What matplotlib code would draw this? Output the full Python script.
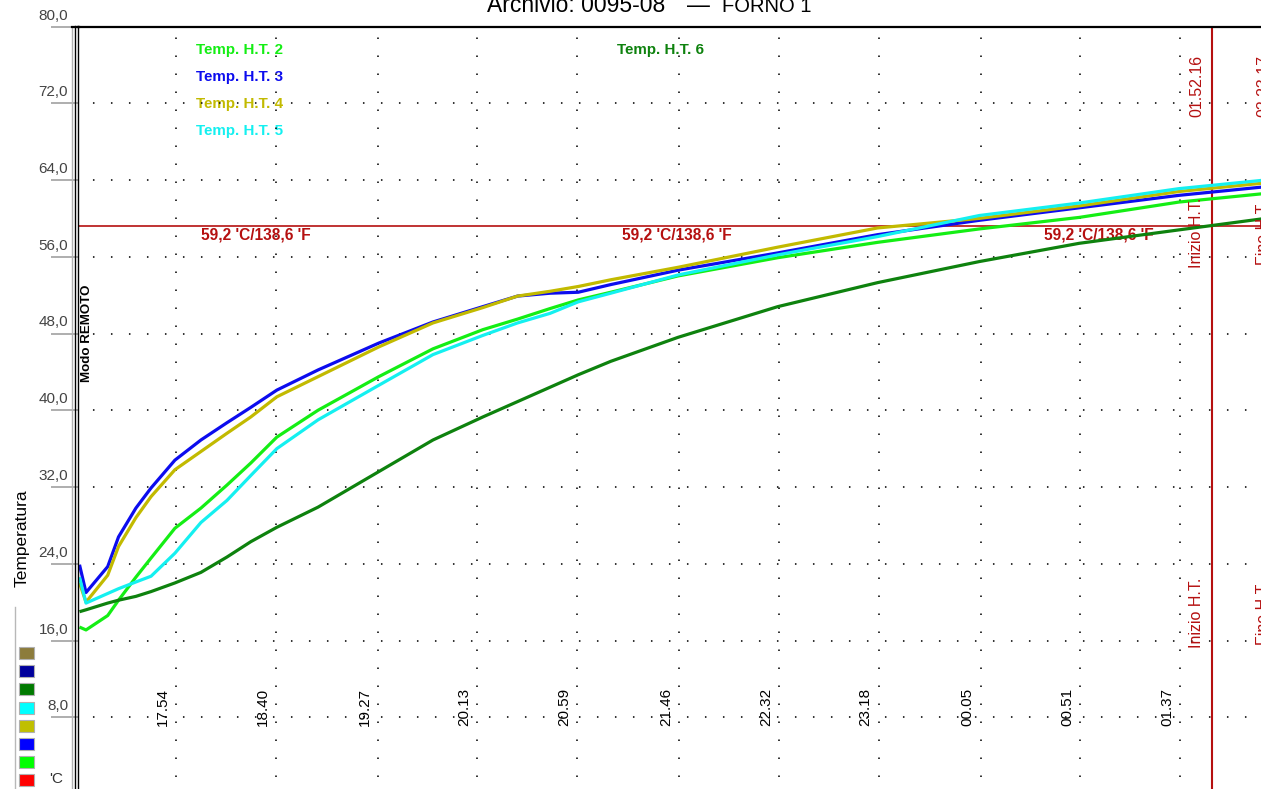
import matplotlib
matplotlib.use("Agg")
import matplotlib.pyplot as plt
import matplotlib.transforms as mtransforms
from matplotlib.lines import Line2D
from matplotlib.patches import Rectangle

plt.rcParams['lines.scale_dashes'] = False
plt.rcParams['font.family'] = ['Liberation Sans', 'DejaVu Sans']

# ---------------- data ----------------
times = ["17:10", "17:13", "17:23", "17:28", "17:36", "17:43", "17:54", "18:06",
         "18:18", "18:29", "18:41", "19:00", "19:28", "19:53", "20:16", "20:32",
         "20:47", "21:00", "21:15", "21:46", "22:32", "23:18", "00:05", "00:51",
         "01:37", "02:17"]

ht2 = [17.4, 17.1, 18.6, 20.2, 22.6, 24.6, 27.7, 29.8, 32.2, 34.5, 37.2, 40.0, 43.5,
       46.4, 48.4, 49.5, 50.6, 51.5, 52.3, 54.0, 55.9, 57.5, 58.9, 60.1, 61.7, 62.6]
ht3 = [23.9, 21.0, 23.7, 26.8, 29.8, 31.9, 34.8, 36.9, 38.7, 40.3, 42.1, 44.2, 47.0,
       49.2, 50.8, 51.9, 52.2, 52.3, 53.1, 54.6, 56.4, 58.3, 59.8, 61.1, 62.4, 63.3]
ht4 = [22.0, 20.0, 22.8, 25.8, 28.8, 31.0, 33.8, 35.7, 37.6, 39.3, 41.4, 43.5, 46.6,
       49.1, 50.7, 51.9, 52.4, 52.9, 53.6, 54.9, 57.0, 59.0, 60.0, 61.3, 62.8, 63.7]
ht5 = [22.6, 19.9, 20.9, 21.4, 22.1, 22.7, 25.1, 28.3, 30.6, 33.2, 36.0, 39.0, 42.6,
       45.8, 47.8, 49.1, 50.1, 51.3, 52.2, 54.1, 56.2, 58.1, 60.3, 61.6, 63.1, 64.0]
ht6 = [19.0, 19.2, 19.9, 20.2, 20.6, 21.1, 22.0, 23.1, 24.7, 26.3, 27.8, 29.9, 33.6,
       36.9, 39.3, 40.9, 42.4, 43.7, 45.1, 47.6, 50.8, 53.3, 55.5, 57.4, 58.8, 60.0]

series_names = ["Temp. H.T. 2", "Temp. H.T. 3", "Temp. H.T. 4", "Temp. H.T. 5", "Temp. H.T. 6"]
series_colors = ["#14ee14", "#0c0cee", "#c2ba00", "#14f0f0", "#0e820e"]

x_tick_labels = ["17.54", "18.40", "19.27", "20.13", "20.59", "21.46", "22.32",
                 "23.18", "00.05", "00.51", "01.37"]
y_ticks = [0, 8, 16, 24, 32, 40, 48, 56, 64, 72, 80]
y_labelled = [8, 16, 24, 32, 40, 48, 56, 64, 72, 80]

threshold = 59.2
threshold_label = "59,2 'C/138,6 'F"
ht_start = "01.52.16"
ht_end = "02.23.17"

legend_box_colors = ["#8c7c3c", "#00009c", "#007a00", "#00ffff", "#c0bf00",
                     "#0000ff", "#00ff00", "#ff0000"]

title_left = "Archivio: 0095-08"
title_right = "FORNO 1"


def to_min(s):
    parts = [int(p) for p in s.replace('.', ':').split(':')]
    h, m = parts[0], parts[1]
    sec = parts[2] if len(parts) > 2 else 0
    if h < 12:
        h += 24
    return h * 60 + m + sec / 60.0


x = [to_min(t) for t in times]
tick_x = [to_min(t) + 0.5 for t in x_tick_labels]

# ---------------- figure / layout ----------------
W, H, DPI = 1261, 789, 100
fig = plt.figure(figsize=(W / DPI, H / DPI), dpi=DPI)
fig.patch.set_facecolor('white')


def fx(px):
    return px / W


def fy(py):
    return 1 - py / H


AX_L, AX_R, AX_T, AX_B = 78, 1300, 26.5, 794
ax = fig.add_axes([fx(AX_L), fy(AX_B), fx(AX_R - AX_L), (AX_B - AX_T) / H])
ax.set_facecolor('white')
ppm = (1180 - 176) / (tick_x[-1] - tick_x[0])
ax.set_xlim(tick_x[0] - (176 - AX_L) / ppm, tick_x[0] + (AX_R - 176) / ppm)
ax.set_ylim(0, 80)

for sp in ['left', 'right', 'bottom']:
    ax.spines[sp].set_visible(False)
ax.spines['top'].set_linewidth(1.6)
ax.spines['top'].set_color('black')

ax.set_xticks(tick_x)
ax.set_yticks(y_ticks)
ax.tick_params(axis='x', length=0, labelbottom=False)
ax.tick_params(axis='y', direction='out', length=19.5, width=1.3, color='#a8a8a8',
               labelleft=False)

P = 18 * 0.72
ax.xaxis.grid(True, color='#111111', linewidth=1.2, linestyle=(3.6, (1.1, P - 1.1)))
ax.yaxis.grid(True, color='#111111', linewidth=1.2, linestyle=(2.2, (1.1, P - 1.1)))
ax.set_axisbelow(True)

# threshold and H.T. markers
red = '#b51010'
ax.axhline(threshold, color=red, lw=1.2, zorder=2)
for t in (ht_start, ht_end):
    ax.axvline(to_min(t), color=red, lw=1.5, zorder=2)

# threshold labels (under the curves)
for px in (201, 622, 1044):
    ax.text(fx(px), fy(235), threshold_label, ha='left', va='center', fontsize=11.2,
            fontweight='bold', color=red, transform=fig.transFigure, zorder=2.5)

# curves
order = [1, 2, 0, 3, 4]
data = [ht2, ht3, ht4, ht5, ht6]
for i in order:
    ax.plot(x, data[i], color=series_colors[i], lw=2.3, zorder=3,
            solid_joinstyle='round', solid_capstyle='butt')

# x tick labels (rotated, left of each grid line)
tr_x = mtransforms.offset_copy(ax.transData, fig=fig, x=-6, y=0, units='dots')
for tx, lab in zip(tick_x, x_tick_labels):
    ax.text(tx, 9.05, lab, rotation=90, ha='right', va='center', fontsize=11,
            color='black', transform=tr_x, clip_on=False)

# y tick labels (above tick mark)
tr_y = mtransforms.offset_copy(
    mtransforms.blended_transform_factory(fig.transFigure, ax.transData),
    fig=fig, x=0, y=4, units='dots')
for v in y_labelled:
    fig.text(fx(68), v, f"{v:.1f}".replace('.', ','), ha='right', va='bottom',
             fontsize=11, color='#444444', transform=tr_y)

# H.T. labels
tr_ht = mtransforms.offset_copy(
    mtransforms.blended_transform_factory(ax.transData, fig.transFigure),
    fig=fig, x=-8, y=0, units='dots')
for t, word in ((ht_start, "Inizio H.T."), (ht_end, "Fine H.T.")):
    tm = to_min(t)
    ax.text(tm, fy(86), t, rotation=90, ha='right', va='center', fontsize=11.5,
            color=red, transform=tr_ht, clip_on=False)
    ax.text(tm, fy(233), word, rotation=90, ha='right', va='center', fontsize=11.5,
            color=red, transform=tr_ht, clip_on=False)
    ax.text(tm, fy(613), word, rotation=90, ha='right', va='center', fontsize=11.5,
            color=red, transform=tr_ht, clip_on=False)

# series labels (grid dots show through)
legend_pos = [(196, 50), (196, 77), (196, 104), (196, 131), (617, 50)]
for (lx, ly), name, col in zip(legend_pos, series_names, series_colors):
    ax.text(fx(lx), fy(ly), name, ha='left', va='center', fontsize=10.9,
            fontweight='bold', color=col, transform=fig.transFigure, zorder=0.5)

# left frame lines and top frame extension
fig.add_artist(Line2D([fx(72), fx(72)], [fy(27), 0], color='#b0b0b0', lw=1.0))
fig.add_artist(Line2D([fx(74.8), fx(74.8)], [fy(26), 0], color='black', lw=1.0))
fig.add_artist(Line2D([fx(77.8), fx(77.8)], [fy(26), 0], color='black', lw=1.0))
fig.add_artist(Line2D([fx(72), fx(79)], [fy(26.5), fy(26.5)], color='black', lw=1.6))

# side texts
fig.text(fx(87), fy(333), "Modo REMOTO", rotation=90, ha='center', va='center',
         fontsize=9.6, fontweight='bold', color='black')
fig.text(fx(22), fy(538), "Temperatura", rotation=90, ha='center', va='center',
         fontsize=12.5, color='black')
fig.text(fx(56), fy(779), "'C", ha='center', va='center', fontsize=11, color='#333333')

# colour legend boxes
fig.add_artist(Line2D([fx(15), fx(15)], [fy(607), 0], color='#b8b8b8', lw=1.0))
for k, c in enumerate(legend_box_colors):
    top = 647 + 18.2 * k
    fig.add_artist(Rectangle((fx(19), fy(top + 12)), 15 / W, 12 / H, facecolor=c,
                             edgecolor='#b0b0b0', lw=0.8))

# title (cut at top edge as in the original)
fig.text(fx(487), fy(12), title_left, ha='left', va='baseline', fontsize=16.5, color='black')
fig.text(fx(698), fy(12), "\u2014", ha='center', va='baseline', fontsize=16.5, color='black')
fig.text(fx(722), fy(12), title_right, ha='left', va='baseline', fontsize=14.5, color='black')

fig.savefig("out.png", dpi=DPI)
